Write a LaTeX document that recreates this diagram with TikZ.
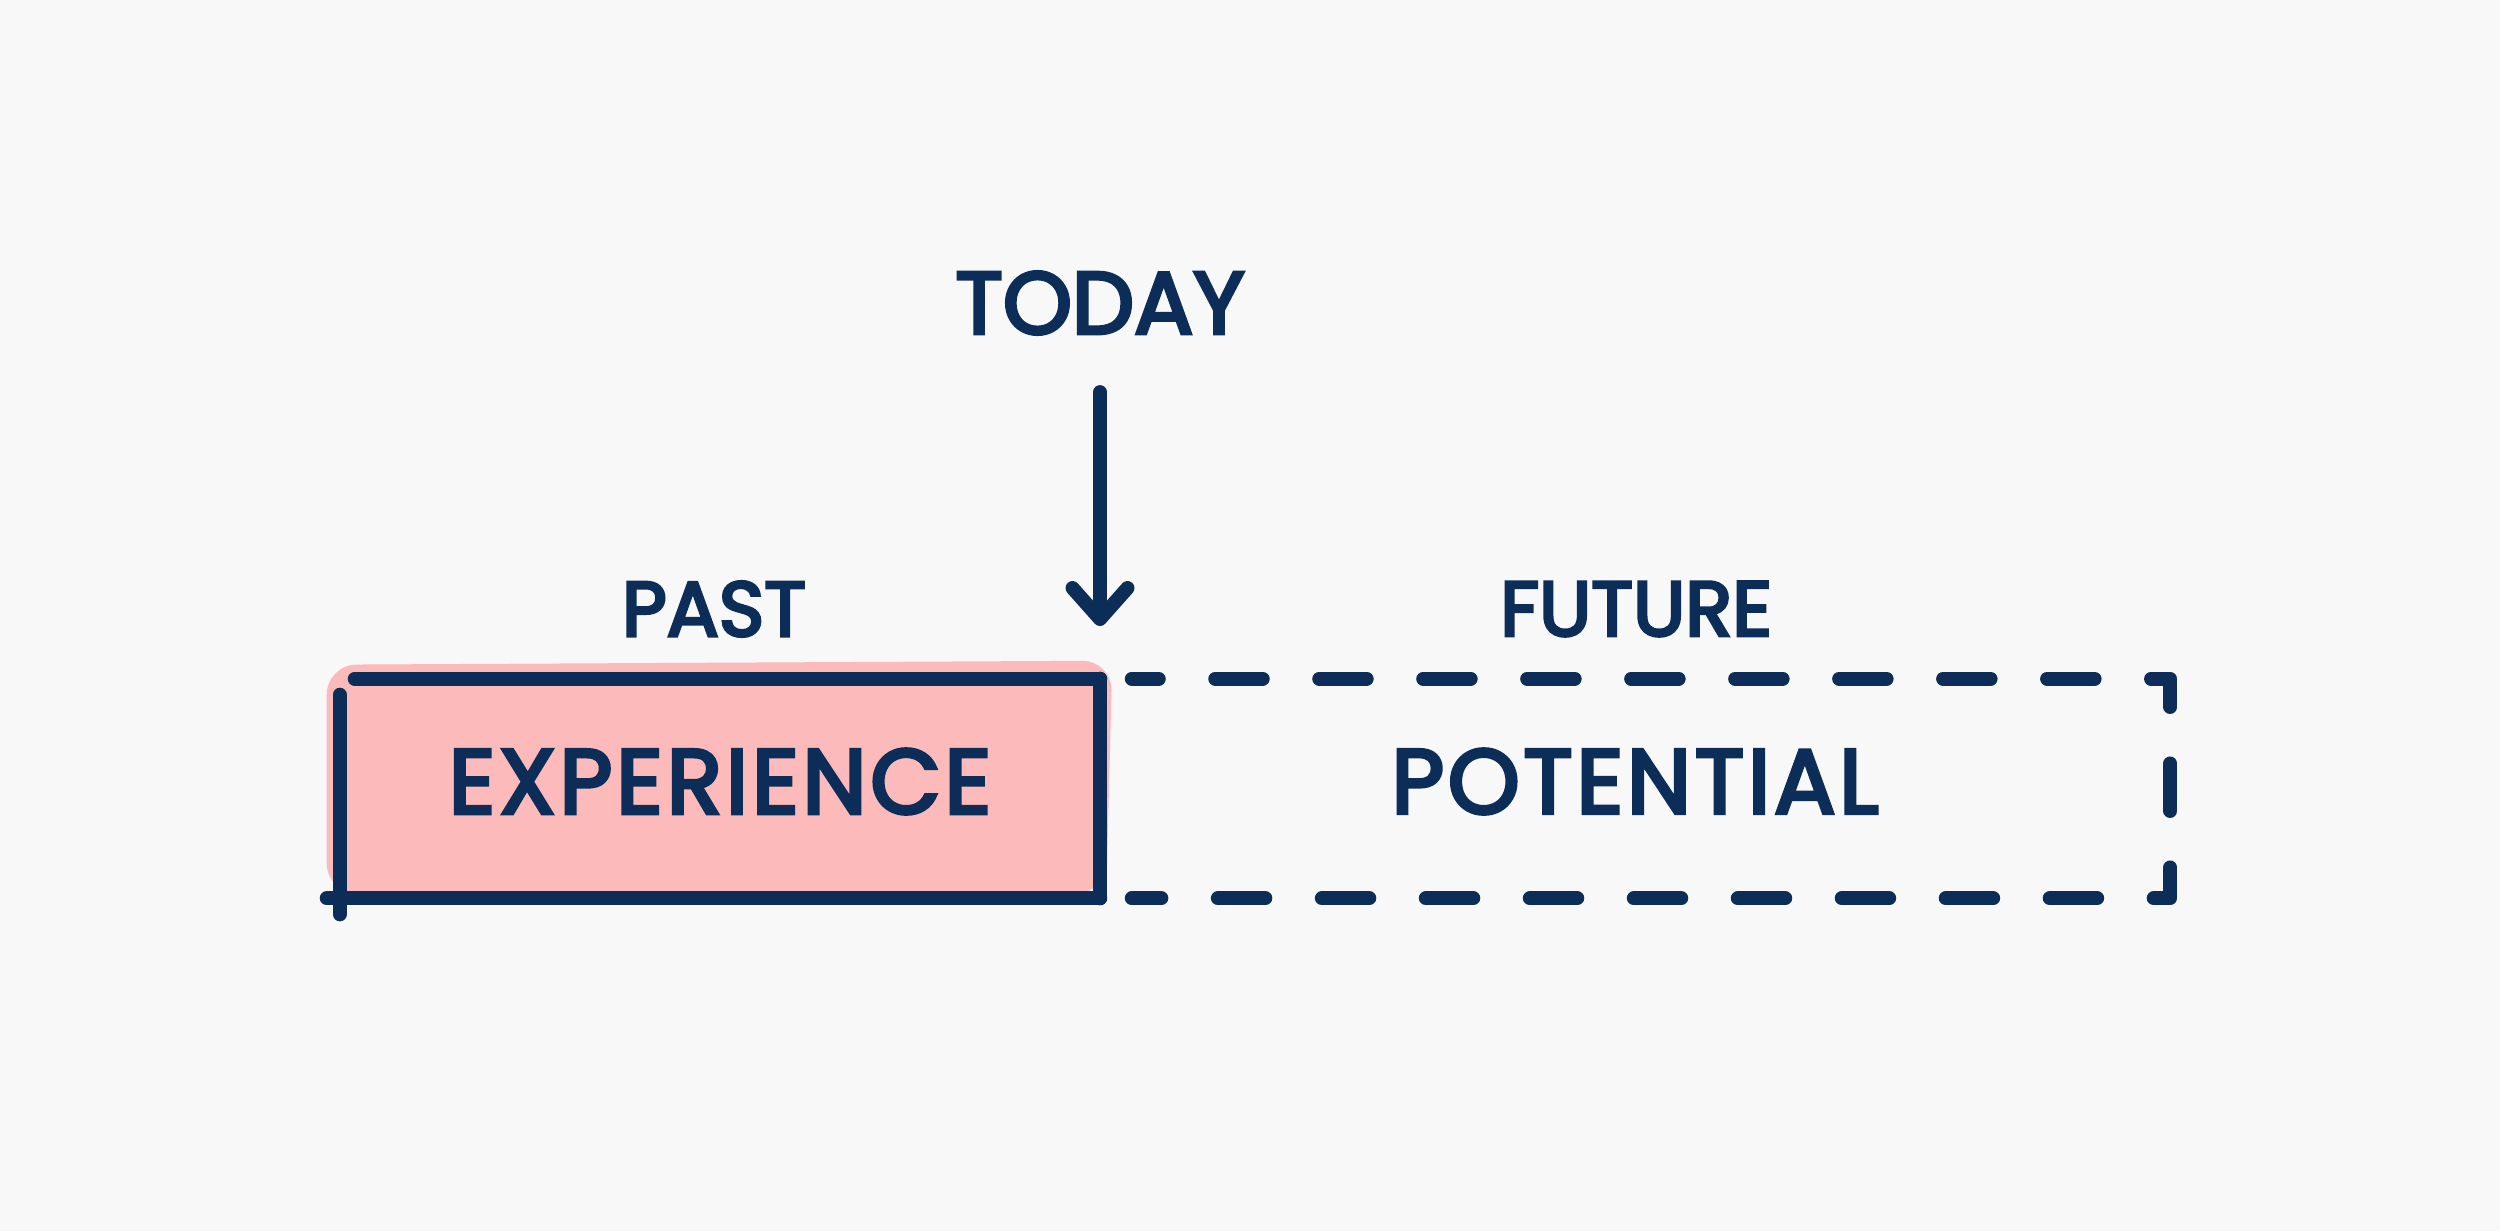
\documentclass[tikz,border=0pt]{standalone}
\usepackage{fontspec}
\setmainfont{Poppins}[FakeBold=4]
\newfontfamily\boxfont{Poppins}[FakeBold=4,LetterSpace=4]
\usetikzlibrary{arrows.meta,backgrounds}
\definecolor{ink}{RGB}{11,45,88}
\definecolor{pinkfill}{RGB}{252,186,186}
\definecolor{paper}{RGB}{248,248,248}
\tikzset{
  inkline/.style={draw=ink,line width=0.28cm,line cap=round,line join=round},
  lbl/.style={text=ink,font=\fontsize{44}{50}\selectfont,inner sep=0pt},
  boxtext/.style={text=ink,font=\boxfont\fontsize{52}{60}\selectfont,inner sep=0pt},
  dashbox/.style={inkline,dash pattern=on 0.95cm off 1.13cm,dash phase=0.41cm},
  todayarrow/.style={inkline,-{Straight Barb[length=0.62cm,width=1.1cm,round]}}
}
\begin{document}
\begin{tikzpicture}[x=0.02cm,y=-0.02cm]
\useasboundingbox (0,0) rectangle (2500,1231);
\begin{scope}[on background layer]
  \fill[paper] (0,0) rectangle (2500,1231);
\end{scope}
% nodes
\node[lbl,font=\fontsize{50}{56}\selectfont] (today) at (1100,303) {TODAY};
\node[lbl] (past) at (714,609) {PAST};
\node[lbl] (future) at (1636,609) {FUTURE};
\node[minimum width=15.2cm,minimum height=4.38cm,inner sep=0pt] (exp) at (720,788.5) {};
\node[minimum width=21.4cm,minimum height=4.38cm,inner sep=0pt] (pot) at (1635,788.5) {};
\node[boxtext] (exptext) at ([yshift=0.14cm]exp.center) {EXPERIENCE};
\node[boxtext] (pottext) at ([yshift=0.14cm]pot.center) {POTENTIAL};
\coordinate (tip) at (1100,626);
% pink fill (slightly offset, hand-drawn look)
\begin{scope}[on background layer]
  \fill[pinkfill,rounded corners=0.6cm]
    ([shift={(-13,-14)}]exp.north west) -- ([shift={(12,-18)}]exp.north east)
    -- ([shift={(6,-5)}]exp.south east) -- ([shift={(-13,-5)}]exp.south west) -- cycle;
\end{scope}
% experience outline with overshooting strokes
\draw[inkline] ([shift={(15,0)}]exp.north west) -- (exp.north east);
\draw[inkline] ([shift={(0,16)}]exp.north west) -- ([shift={(0,16)}]exp.south west);
\draw[inkline] ([shift={(-13,0)}]exp.south west) -- (exp.south east);
\draw[inkline] (exp.north east) -- (exp.south east);
% potential dashed outline
\draw[dashbox] ([shift={(32,0)}]pot.north west) -- (pot.north east) -- (pot.south east) -- ([shift={(32,0)}]pot.south west);
% arrow
\draw[todayarrow] ([yshift=-1.15cm]today.south) -- (tip);
\end{tikzpicture}
\end{document}
